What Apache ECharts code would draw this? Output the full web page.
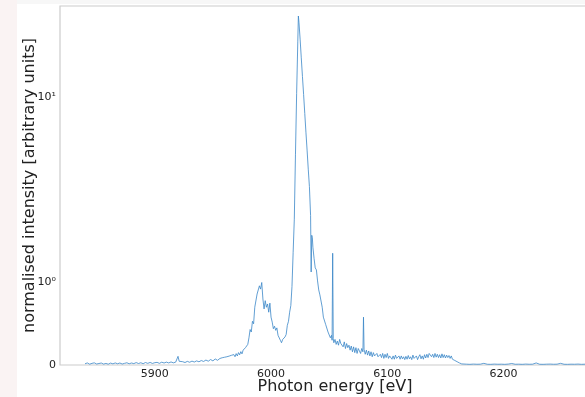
<!DOCTYPE html>
<html>
<head>
<meta charset="utf-8">
<script src="https://cdn.jsdelivr.net/npm/echarts@6/dist/echarts.min.js"></script>
<style>
html,body{margin:0;padding:0;background:#fff;}
#chart{width:585px;height:397px;}
</style>
</head>
<body>
<div id="chart"></div>
<script>
// ---- data (photon energy in eV, normalised intensity) ----
const energyA = [5840,5842,5844,5846,5848,5850,5852,5854,5856,5858,
  5860,5862,5864,5866,5868,5870,5872,5874,5876,5878,
  5880,5882,5884,5886,5888,5890,5892,5894,5896,5898,
  5900,5902,5904,5906,5908,5910,5912,5914,5916,5918];
const intensityA = [0.015,0.025,0.01,0.02,0.026,0.012,0.018,0.024,0.011,0.019,
  0.01,0.023,0.014,0.025,0.015,0.024,0.012,0.02,0.027,0.015,
  0.024,0.017,0.029,0.018,0.027,0.016,0.03,0.02,0.031,0.019,
  0.028,0.032,0.02,0.034,0.024,0.035,0.025,0.037,0.026,0.035];

const energyB = [5919,5920,5921,5922,5924,5926,5928,5930,5932,5934,
  5936,5938,5940,5942,5944,5946,5948,5950,5952,5954,5956];
const intensityB = [0.04,0.105,0.045,0.033,0.04,0.03,0.044,0.033,0.047,0.036,
  0.05,0.039,0.054,0.043,0.06,0.046,0.066,0.05,0.073,0.057,0.079];

const energyC = [5957,5958,5959,5960,5961,5962,5963,5964,5965,5966,
  5967,5968,5969,5970,5971,5972,5973,5974,5975,5976,
  5977,5978,5979,5980,5981,5982,5983,5984,5985,5986,
  5987,5988,5989,5990,5991,5992,5993,5994,5995,5996,
  5997,5998,5999,6000,6001,6002,6003,6004,6005,6006,
  6007,6008,6009,6010,6011,6012,6013,6014,6015,6016,
  6017,6018,6019,6020,6021,6022,6023,6023.5];
const intensityC = [0.062,0.088,0.066,0.094,0.074,0.1,0.08,0.108,0.088,0.118,
  0.094,0.126,0.1,0.138,0.11,0.15,0.124,0.162,0.135,0.18,
  0.17,0.21,0.2,0.25,0.33,0.43,0.4,0.53,0.5,0.7,
  0.72,0.86,0.84,0.96,0.92,1.0,0.8,0.68,0.78,0.7,
  0.74,0.64,0.75,0.58,0.52,0.44,0.47,0.42,0.45,0.36,
  0.34,0.3,0.27,0.31,0.29,0.34,0.37,0.48,0.53,0.64,
  0.72,0.95,1.45,2.2,4.9,10.5,20,27.6];

const energyD = [6024,6025,6026,6027,6028,6029,6030,6031,6032,6033,
  6034,6034.5,6035,6035.5,6036,6037,6038,6039,6040,6041,
  6042,6043,6044,6045,6046,6047,6048,6049,6050,6051,
  6052,6052.5,6053,6053.5,6054,6055,6056,6057,6058,6059,6060];
const intensityD = [25.5,20.7,16.4,13,10.4,8.2,6.5,5.2,4.1,3.3,
  2.3,1.14,1.8,1.75,1.55,1.35,1.2,1.17,1.02,0.91,
  0.85,0.84,0.7,0.58,0.6,0.49,0.5,0.4,0.42,0.33,
  0.36,0.3,1.44,0.32,0.27,0.31,0.25,0.29,0.24,0.31,0.26];

const energyE = [6061,6062,6063,6064,6065,6066,6067,6068,6069,6070,
  6071,6072,6073,6074,6075,6076,6077,6078,6079,6079.5,
  6080,6081,6082,6083,6084,6085,6086,6087,6088,6089,
  6090,6091,6092,6093,6094,6095,6096,6097,6098,6099,
  6100,6101,6102,6103,6104,6105,6106,6107,6108,6109,6110];
const intensityE = [0.27,0.22,0.28,0.2,0.26,0.21,0.24,0.18,0.23,0.16,
  0.22,0.15,0.21,0.14,0.2,0.22,0.14,0.2,0.16,0.58,
  0.19,0.13,0.18,0.12,0.17,0.11,0.16,0.1,0.15,0.11,
  0.09,0.14,0.1,0.08,0.13,0.09,0.14,0.08,0.13,0.09,
  0.14,0.08,0.11,0.12,0.07,0.11,0.07,0.12,0.08,0.07,0.11];

const energyF = [6111,6112,6113,6114,6115,6116,6117,6118,6119,6120,
  6121,6122,6123,6124,6125,6126,6127,6128,6129,6130,
  6131,6132,6133,6134,6135,6136,6137,6138,6139,6140,
  6141,6142,6143,6144,6145,6146,6147,6148,6149,6150,
  6151,6152,6153,6154,6155,6156,6157,6158,6159,6160,
  6161,6162,6163,6164,6165];
const intensityF = [0.07,0.11,0.075,0.1,0.065,0.105,0.07,0.115,0.075,0.1,
  0.065,0.12,0.08,0.07,0.11,0.065,0.1,0.125,0.075,0.11,
  0.07,0.125,0.085,0.13,0.09,0.14,0.16,0.1,0.13,0.09,
  0.14,0.095,0.13,0.09,0.125,0.085,0.135,0.09,0.125,0.085,
  0.12,0.09,0.115,0.08,0.11,0.07,0.08,0.055,0.055,0.04,
  0.035,0.025,0.02,0.013,0.011];

const energyG = [6168,6171,6174,6177,6180,6183,6186,6189,6192,6195,
  6198,6201,6204,6207,6210,6213,6216,6219,6222,6225,
  6228,6231,6234,6237,6240,6243,6246,6249,6252,6255,
  6258,6261,6264,6267,6270];
const intensityG = [0.01,0.008,0.011,0.009,0.01,0.02,0.009,0.008,0.011,0.009,
  0.01,0.008,0.011,0.018,0.009,0.01,0.008,0.011,0.009,0.01,
  0.025,0.009,0.008,0.01,0.011,0.009,0.01,0.02,0.009,0.008,
  0.01,0.009,0.011,0.008,0.01];

const xTicks = [5900, 6000, 6100, 6200];
const yTickValues = [0, 1, 10];
const yTickLabels = ['0', '10\u2070', '10\u00B9'];

// ---- symmetric-log scale (linear below 1, log above) ----
const LIN = 0.446;
function symlog(v) { return v <= 1 ? v * LIN : LIN + Math.log10(v); }

const energy = [].concat(energyA, energyB, energyC, energyD, energyE, energyF, energyG);
const intensity = [].concat(intensityA, intensityB, intensityC, intensityD, intensityE, intensityF, intensityG);
if (energy.length !== intensity.length) throw new Error('length mismatch ' + energy.length + ' ' + intensity.length);
const seriesData = energy.map((e, i) => [e, symlog(intensity[i])]);
const yTickPos = yTickValues.map(symlog);

const chart = echarts.init(document.getElementById('chart'), null, {renderer: 'canvas'});
chart.setOption({
  animation: false,
  backgroundColor: '#ffffff',
  graphic: [
    {type: 'rect', left: 0, top: 0, shape: {x: 0, y: 0, width: 17, height: 397}, style: {fill: '#faf3f3'}, z: -10},
    {type: 'rect', left: 17, top: 0, shape: {x: 0, y: 0, width: 568, height: 4}, style: {fill: '#f7f7f7'}, z: -10}
  ],
  grid: {
    left: 60, right: -25, top: 6, bottom: 32,
    show: true, borderColor: '#cccccc', borderWidth: 1.2, backgroundColor: 'transparent',
    containLabel: false, outerBoundsMode: 'none'
  },
  xAxis: {
    type: 'value',
    min: 5818.5, max: 6291.5,
    name: 'Photon energy [eV]',
    nameLocation: 'middle', nameGap: 14, nameMoveOverlap: false,
    nameTextStyle: {fontFamily: 'DejaVu Sans', fontSize: 16, color: '#222', verticalAlign: 'top'},
    axisLine: {show: false},
    axisTick: {show: false},
    splitLine: {show: false},
    axisLabel: {
      customValues: xTicks,
      fontFamily: 'DejaVu Sans', fontSize: 11, color: '#222', margin: 4,
      formatter: v => String(v)
    }
  },
  yAxis: {
    type: 'value',
    min: 0, max: 1.941,
    name: 'normalised intensity [arbitrary units]',
    nameLocation: 'middle', nameGap: 22, nameRotate: 90, nameMoveOverlap: false,
    nameTextStyle: {fontFamily: 'DejaVu Sans', fontSize: 16, color: '#222'},
    axisLine: {show: false},
    axisTick: {show: false},
    splitLine: {show: false},
    axisLabel: {
      customValues: yTickPos,
      margin: 4,
      fontFamily: 'DejaVu Sans', fontSize: 11, color: '#222',
      formatter: function (v) {
        let best = 0;
        for (let i = 1; i < yTickPos.length; i++) {
          if (Math.abs(yTickPos[i] - v) < Math.abs(yTickPos[best] - v)) best = i;
        }
        return yTickLabels[best];
      }
    }
  },
  series: [{
    type: 'line',
    data: seriesData,
    showSymbol: false,
    symbol: 'none',
    lineStyle: {color: '#3a86c8', width: 0.8},
    emphasis: {disabled: true}
  }]
});
</script>
</body>
</html>
